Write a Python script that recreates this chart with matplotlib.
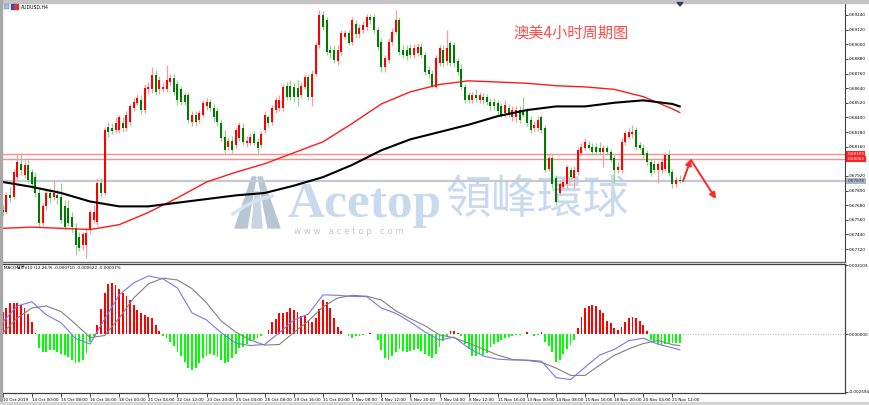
import numpy as np
import matplotlib
matplotlib.use("Agg")
import matplotlib.pyplot as plt
from matplotlib.patches import Polygon, Rectangle

W, H = 870, 405

# AUDUSD H4 candles, prices in pips (x 1e-4), oldest bar first
open_pips = [
    6764, 6762, 6776, 6775, 6791, 6802, 6793, 6801, 6795, 6791,
    6778, 6753, 6767, 6778, 6775, 6776, 6775, 6767, 6766, 6758,
    6749, 6742, 6735, 6735, 6748, 6756, 6754, 6786, 6778, 6832,
    6831, 6830, 6830, 6835, 6831, 6836, 6848, 6852, 6854, 6846,
    6863, 6863, 6875, 6863, 6863, 6863, 6869, 6872, 6867, 6863,
    6858, 6858, 6836, 6842, 6838, 6842, 6849, 6853, 6848, 6845,
    6835, 6824, 6816, 6821, 6817, 6823, 6831, 6819, 6819, 6826,
    6820, 6817, 6830, 6840, 6836, 6846, 6848, 6848, 6866, 6866,
    6865, 6864, 6858, 6865, 6873, 6857, 6876, 6899, 6924, 6920,
    6895, 6895, 6886, 6894, 6906, 6909, 6902, 6917, 6908, 6912,
    6914, 6922, 6922, 6912, 6902, 6881, 6887, 6902, 6910, 6920,
    6895, 6895, 6897, 6891, 6893, 6898, 6891, 6879, 6876, 6865,
    6885, 6895, 6886, 6901, 6899, 6886, 6880, 6865, 6858, 6854,
    6858, 6854, 6857, 6857, 6853, 6853, 6852, 6849, 6844, 6848,
    6840, 6840, 6846, 6846, 6845, 6838, 6831, 6831, 6840, 6831,
    6798, 6807, 6790, 6778, 6783, 6785, 6797, 6790, 6795, 6811,
    6815, 6817, 6816, 6816, 6815, 6812, 6815, 6812, 6807, 6797,
    6797, 6820, 6824, 6826, 6830, 6817, 6815, 6811, 6803, 6802,
    6797, 6797, 6798, 6809, 6795, 6785, 6789]
high_pips = [
    6768, 6779, 6783, 6798, 6811, 6811, 6805, 6805, 6798, 6795,
    6781, 6770, 6781, 6782, 6789, 6781, 6786, 6772, 6772, 6762,
    6753, 6746, 6746, 6749, 6764, 6768, 6790, 6790, 6832, 6836,
    6835, 6840, 6842, 6840, 6845, 6851, 6856, 6859, 6858, 6867,
    6869, 6881, 6879, 6874, 6869, 6883, 6876, 6876, 6871, 6866,
    6861, 6861, 6845, 6845, 6846, 6854, 6856, 6855, 6851, 6848,
    6839, 6830, 6824, 6825, 6832, 6836, 6835, 6825, 6827, 6829,
    6823, 6829, 6845, 6842, 6850, 6857, 6858, 6867, 6869, 6871,
    6868, 6871, 6869, 6876, 6876, 6879, 6902, 6928, 6927, 6922,
    6899, 6899, 6899, 6912, 6912, 6912, 6922, 6920, 6917, 6919,
    6925, 6925, 6925, 6914, 6905, 6891, 6905, 6913, 6928, 6922,
    6899, 6899, 6900, 6900, 6901, 6901, 6894, 6882, 6879, 6891,
    6899, 6899, 6912, 6903, 6902, 6889, 6884, 6867, 6861, 6861,
    6863, 6861, 6860, 6859, 6856, 6856, 6854, 6852, 6854, 6851,
    6849, 6849, 6849, 6857, 6848, 6841, 6837, 6841, 6842, 6834,
    6809, 6809, 6793, 6787, 6790, 6801, 6799, 6800, 6816, 6819,
    6823, 6821, 6819, 6819, 6820, 6817, 6817, 6814, 6809, 6803,
    6823, 6830, 6831, 6834, 6832, 6820, 6818, 6813, 6807, 6805,
    6803, 6807, 6811, 6813, 6798, 6791, 6793]
low_pips = [
    6759, 6761, 6771, 6773, 6789, 6793, 6790, 6786, 6781, 6775,
    6750, 6751, 6764, 6770, 6772, 6769, 6753, 6748, 6751, 6746,
    6727, 6730, 6731, 6725, 6744, 6753, 6752, 6775, 6776, 6824,
    6826, 6827, 6827, 6828, 6829, 6834, 6845, 6850, 6843, 6844,
    6859, 6860, 6858, 6859, 6861, 6861, 6866, 6858, 6850, 6850,
    6850, 6835, 6833, 6833, 6835, 6840, 6846, 6845, 6836, 6833,
    6821, 6811, 6813, 6811, 6815, 6821, 6817, 6816, 6817, 6817,
    6811, 6815, 6827, 6832, 6834, 6844, 6845, 6845, 6854, 6854,
    6853, 6849, 6856, 6863, 6854, 6849, 6874, 6897, 6912, 6891,
    6889, 6885, 6883, 6891, 6904, 6899, 6899, 6905, 6905, 6909,
    6912, 6917, 6909, 6895, 6877, 6877, 6885, 6899, 6908, 6891,
    6889, 6887, 6889, 6889, 6890, 6889, 6875, 6872, 6864, 6864,
    6882, 6882, 6883, 6882, 6881, 6875, 6863, 6852, 6852, 6852,
    6853, 6852, 6851, 6850, 6846, 6846, 6842, 6840, 6840, 6840,
    6837, 6836, 6835, 6840, 6833, 6827, 6829, 6829, 6827, 6795,
    6796, 6782, 6768, 6776, 6781, 6782, 6789, 6782, 6793, 6809,
    6813, 6813, 6809, 6809, 6809, 6799, 6809, 6803, 6786, 6794,
    6794, 6817, 6822, 6823, 6813, 6813, 6807, 6801, 6792, 6794,
    6786, 6794, 6796, 6792, 6782, 6783, 6786]
close_pips = [
    6762, 6776, 6774, 6795, 6803, 6797, 6801, 6789, 6785, 6778,
    6753, 6767, 6778, 6774, 6778, 6774, 6756, 6750, 6753, 6750,
    6735, 6733, 6744, 6745, 6762, 6762, 6786, 6778, 6830, 6828,
    6829, 6835, 6840, 6831, 6842, 6849, 6853, 6856, 6846, 6864,
    6865, 6875, 6861, 6871, 6865, 6871, 6872, 6861, 6854, 6853,
    6853, 6838, 6842, 6836, 6844, 6852, 6853, 6848, 6840, 6836,
    6823, 6813, 6821, 6813, 6830, 6834, 6820, 6821, 6824, 6819,
    6815, 6826, 6842, 6835, 6848, 6854, 6854, 6865, 6857, 6857,
    6857, 6857, 6866, 6873, 6857, 6876, 6899, 6924, 6914, 6894,
    6893, 6887, 6895, 6909, 6909, 6901, 6920, 6908, 6913, 6916,
    6922, 6920, 6912, 6898, 6881, 6889, 6902, 6910, 6920, 6894,
    6891, 6890, 6891, 6897, 6898, 6891, 6877, 6876, 6865, 6889,
    6897, 6885, 6897, 6885, 6885, 6877, 6865, 6854, 6854, 6858,
    6856, 6858, 6854, 6853, 6849, 6849, 6845, 6842, 6850, 6842,
    6846, 6846, 6838, 6842, 6835, 6830, 6834, 6838, 6830, 6797,
    6807, 6785, 6771, 6785, 6787, 6799, 6791, 6797, 6813, 6816,
    6820, 6815, 6812, 6812, 6812, 6815, 6812, 6805, 6797, 6799,
    6820, 6827, 6828, 6828, 6816, 6815, 6809, 6803, 6794, 6797,
    6802, 6803, 6809, 6794, 6785, 6789, 6788]

# moving averages, read every 8 bars
ma_bars = [0, 8, 16, 24, 32, 40, 48, 56, 64, 72, 80, 88, 96, 104, 112,
           120, 128, 136, 144, 152, 160, 168, 176, 184, 186]
ma_red = [0.6749, 0.6750, 0.6749, 0.6748, 0.6752, 0.6762, 0.6774, 0.6787,
          0.6795, 0.6802, 0.6811, 0.6820, 0.6835, 0.6851, 0.6861, 0.6867,
          0.6870, 0.6869, 0.6868, 0.6866, 0.6865, 0.6863, 0.6857, 0.6847,
          0.6844]
ma_black = [0.6787, 0.6783, 0.6778, 0.6771, 0.6767, 0.6767, 0.6770, 0.6773,
            0.6776, 0.6778, 0.6784, 0.6791, 0.6801, 0.6813, 0.6822, 0.6828,
            0.6834, 0.6841, 0.6846, 0.6849, 0.6849, 0.6852, 0.6854, 0.6851,
            0.6849]

# MACD histogram, one per bar, in units of 1e-5
macd_hist = [
    99, 117, 138, 140, 140, 131, 119, 92, 54, 5,
    -63, -82, -81, -74, -71, -81, -89, -94, -103, -115,
    -129, -126, -115, -86, -34, -11, 41, 113, 186, 224,
    228, 222, 203, 185, 171, 153, 132, 108, 93, 84,
    77, 71, 40, 14, -7, -16, -34, -56, -80, -97,
    -126, -151, -161, -155, -129, -109, -99, -92, -95, -105,
    -119, -130, -126, -109, -88, -65, -58, -47, -30, -27,
    -18, -7, 1, 20, 52, 68, 93, 95, 97, 117,
    110, 97, 83, 83, 65, 55, 70, 113, 155, 144,
    119, 72, 32, 14, 2, -11, -18, -9, -7, -5,
    1, 5, -2, -29, -72, -108, -116, -99, -79, -68,
    -78, -80, -75, -71, -69, -76, -89, -100, -107, -92,
    -59, -32, -14, 14, 15, 6, -10, -45, -69, -97,
    -100, -92, -93, -87, -60, -45, -34, -27, -16, -12,
    -9, -6, -5, -2, 7, -2, -7, -6, 9, -34,
    -56, -81, -125, -115, -92, -68, -50, -25, 27, 77,
    115, 126, 131, 126, 109, 96, 59, 49, 27, 16,
    32, 54, 70, 77, 71, 59, 41, 14, -27, -30,
    -43, -49, -44, -41, -41, -41, -39]

# MACD lines, read every 4 bars
macd_bars = [0, 4, 8, 12, 16, 20, 24, 28, 32, 36, 40, 44, 48, 52, 56, 60,
             64, 68, 72, 76, 80, 84, 88, 92, 96, 100, 104, 108, 112, 116,
             120, 124, 128, 132, 136, 140, 144, 148, 152, 156, 160, 164,
             168, 172, 176, 180, 184, 186]
macd_main = [
    0.00054, 0.00126, 0.00145, 0.00086, 0.00051, -0.00020, -0.00045, 0.00068,
    0.00176, 0.00230, 0.00261, 0.00248, 0.00207, 0.00095, 0.00063, 0.00006,
    -0.00041, -0.00052, -0.00047, 0.00006, 0.00063, 0.00090, 0.00176, 0.00174,
    0.00169, 0.00168, 0.00117, 0.00093, 0.00054, 0.00009, -0.00027, -0.00014,
    -0.00063, -0.00099, -0.00113, -0.00117, -0.00117, -0.00122, -0.00196, -0.00205,
    -0.00149, -0.00095, -0.00069, -0.00030, -0.00019, -0.00046, -0.00062, -0.00071]
macd_signal = [
    0.00005, 0.00072, 0.00117, 0.00126, 0.00101, 0.00045, -0.00016, -0.00007,
    0.00072, 0.00162, 0.00225, 0.00251, 0.00243, 0.00204, 0.00140, 0.00059,
    0.00009, -0.00027, -0.00050, -0.00047, 0.00007, 0.00059, 0.00122, 0.00162,
    0.00174, 0.00170, 0.00153, 0.00104, 0.00069, 0.00037, -0.00004, -0.00017,
    -0.00041, -0.00068, -0.00095, -0.00114, -0.00119, -0.00127, -0.00153, -0.00186,
    -0.00186, -0.00140, -0.00096, -0.00067, -0.00043, -0.00029, -0.00048, -0.00052]

price_ticks = [0.69240, 0.69120, 0.69000, 0.68880, 0.68760, 0.68640, 0.68520,
               0.68400, 0.68280, 0.68160, 0.67920, 0.67800, 0.67680, 0.67560,
               0.67440, 0.67320]
macd_ticks = [0.003103, 0.0, -0.002594]
macd_tick_labels = ["0.003103", "0.000000", "-0.002594"]
time_bars = [0, 8, 16, 24, 32, 40, 48, 56, 64, 72, 80, 88, 96, 104, 112,
             120, 128, 136, 144, 152, 160, 168, 176, 184]
time_labels = ["10 Oct 2019", "14 Oct 00:00", "15 Oct 08:00", "16 Oct 16:00",
               "18 Oct 00:00", "21 Oct 04:00", "22 Oct 12:00", "23 Oct 20:00",
               "25 Oct 04:00", "28 Oct 08:00", "29 Oct 16:00", "31 Oct 00:00",
               "1 Nov 08:00", "4 Nov 12:00", "5 Nov 20:00", "7 Nov 04:00",
               "8 Nov 12:00", "11 Nov 16:00", "13 Nov 00:00", "14 Nov 08:00",
               "15 Nov 16:00", "18 Nov 20:00", "20 Nov 04:00", "21 Nov 12:00"]
level_lines = [0.68103, 0.68062]
bid_price = 0.67878

plt.rcParams['font.family'] = ['DejaVu Sans', 'Noto Sans CJK SC']

o = np.array(open_pips) / 1e4
h = np.array(high_pips) / 1e4
l = np.array(low_pips) / 1e4
c = np.array(close_pips) / 1e4
n = len(o)
idx = np.arange(n)
up = c >= o
XLIM = (-0.2, 231.4)


def frac(x0, y0, x1, y1):
    """ pixel box (top-left origin) -> figure rect """
    return [x0 / W, 1 - y1 / H, (x1 - x0) / W, (y1 - y0) / H]


fig = plt.figure(figsize=(W / 100, H / 100), dpi=100)
fig.patch.set_facecolor("white")

# background layer: watermark
bg = fig.add_axes([0, 0, 1, 1], zorder=0)
bg.set_xlim(0, W)
bg.set_ylim(H, 0)
bg.axis("off")
wm = "#c8dbee"
bg.text(288, 217, "Acetop", family="Liberation Serif", weight="bold",
        fontsize=37, color=wm, ha="left", va="baseline")
bg.text(446, 200, "領峰環球", family=["Noto Sans CJK TC"], fontsize=33,
        color=wm, ha="left", va="center")
bg.text(349, 232, "w w w . a c e t o p . c o m", fontsize=6.2,
        color="#c6c6c6", ha="center", va="center")
bg.add_patch(Polygon([(252, 177), (256, 177), (247, 228), (235, 228)], color="#b8c6d4"))
bg.add_patch(Polygon([(258, 177), (262, 177), (280, 228), (268, 228)], color="#b8c6d4"))
bg.add_patch(Polygon([(255, 192), (259, 192), (262, 228), (252, 228)], color="#c9d5e2"))
bg.plot([233, 245, 258, 272], [214, 206, 200, 196], color="#d6e4f2", lw=2.5)

# main price panel
ax = fig.add_axes(frac(2, 3, 845, 262), zorder=1)
ax.set_facecolor("none")
for v in level_lines:
    ax.axhline(v, color="#ff8c8c", lw=1.0, zorder=1)
ax.axhline(bid_price, color="#c3cad6", lw=1.6, zorder=1)

ax.vlines(idx, l, h, colors=np.where(up, "#ff9a9a", "#92d292"), lw=0.9, zorder=2)
body = np.maximum(np.abs(c - o), 0.00008)
ax.bar(idx, body, bottom=np.minimum(o, c), width=0.55,
       color=np.where(up, "#ff0000", "#007a00"), lw=0, zorder=3)
ax.plot(ma_bars, ma_red, color="#ff1a1a", lw=1.0, zorder=4)
ax.plot(ma_bars, ma_black, color="#000000", lw=1.5, zorder=4)

ax.set_xlim(*XLIM)
ax.set_ylim(0.672137, 0.693384)
ax.set_xticks([])
ax.yaxis.tick_right()
ax.set_yticks(price_ticks)
ax.set_yticklabels([f"{p:.5f}" for p in price_ticks])
ax.tick_params(axis="y", labelsize=3, length=2, pad=1, width=0.5)
for s in ["top", "left"]:
    ax.spines[s].set_visible(False)
ax.spines["right"].set_color("#404040")
ax.spines["right"].set_linewidth(0.8)
ax.spines["bottom"].set_color("#707070")
ax.spines["bottom"].set_linewidth(1.0)

for v in level_lines:
    ax.text(1.003, v, f"{v:.5f}", transform=ax.get_yaxis_transform(),
            fontsize=3, color="white", ha="left", va="center", clip_on=False,
            bbox=dict(boxstyle="square,pad=0.25", fc="#ff2020", ec="none"))
ax.text(1.003, bid_price, f"{bid_price:.5f}", transform=ax.get_yaxis_transform(),
        fontsize=3, color="#1c2c50", ha="left", va="center", clip_on=False,
        bbox=dict(boxstyle="square,pad=0.25", fc="#aab4c8", ec="none"))

# MACD panel
ax2 = fig.add_axes(frac(2, 264, 845, 393), zorder=1)
ax2.set_facecolor("none")
hist = np.array(macd_hist) * 1e-5
ax2.bar(idx, hist, width=0.5, color=np.where(hist >= 0, "#ff0000", "#00ff00"), lw=0)
ax2.plot(macd_bars, macd_main, color="#7878f0", lw=0.8)
ax2.plot(macd_bars, macd_signal, color="#808080", lw=0.8)
ax2.plot([n - 1, XLIM[1]], [0, 0], ls=(0, (1, 2)), color="#9a9a9a", lw=0.6)
ax2.set_xlim(*XLIM)
ax2.set_ylim(-0.002653, 0.003148)
ax2.yaxis.tick_right()
ax2.set_yticks(macd_ticks)
ax2.set_yticklabels(macd_tick_labels)
ax2.tick_params(axis="y", labelsize=3, length=2, pad=1, width=0.5)
ax2.set_xticks(time_bars)
ax2.set_xticklabels(time_labels)
plt.setp(ax2.get_xticklabels(), ha="left")
ax2.tick_params(axis="x", labelsize=3, length=3, pad=0.5, width=0.5)
ax2.spines["left"].set_visible(False)
for s in ["top", "right", "bottom"]:
    ax2.spines[s].set_color("#404040")
    ax2.spines[s].set_linewidth(0.9)

# foreground: frame, captions, arrows
fg = fig.add_axes([0, 0, 1, 1], zorder=3)
fg.set_xlim(0, W)
fg.set_ylim(H, 0)
fg.axis("off")
fg.add_patch(Rectangle((0, 0), W, 2.5, color="#c4c4c4"))
fg.add_patch(Rectangle((0, 0), 2, H, color="#a8a8a8"))
fg.add_patch(Rectangle((0, 402), W, 3, color="#d4d4d4"))
fg.add_patch(Rectangle((4, 4), 5.5, 5, fc="#a9bcd8", ec="#6a7f9e", lw=0.3))
fg.add_patch(Rectangle((11, 4), 3.5, 5, color="#3050c0"))
fg.add_patch(Rectangle((14.5, 4), 3.5, 5, color="#e03030"))
fg.add_patch(Polygon([(677, 2.5), (683, 2.5), (680, 6)], color="#34406a"))
fg.text(21, 6.8, "AUDUSD,H4", fontsize=3.3, ha="left", va="center")
fg.text(4, 268, "MACD柱状V10 (12,26,9) -0.000710 -0.000522 -0.00037%",
        fontsize=3, ha="left", va="center")
fg.text(513, 33, "澳美4小时周期图", family=["Noto Sans CJK SC", "DejaVu Sans"],
        fontsize=11, color="#ff4c4c", ha="left", va="center")
arrow = dict(arrowstyle="-|>", color="#ff2626", lw=1.4, mutation_scale=9,
             shrinkA=0, shrinkB=0)
fg.annotate("", xy=(691, 159), xytext=(683, 181), arrowprops=arrow)
fg.annotate("", xy=(716, 199), xytext=(691, 160), arrowprops=arrow)

fig.savefig("out.png", dpi=100, facecolor="white")
